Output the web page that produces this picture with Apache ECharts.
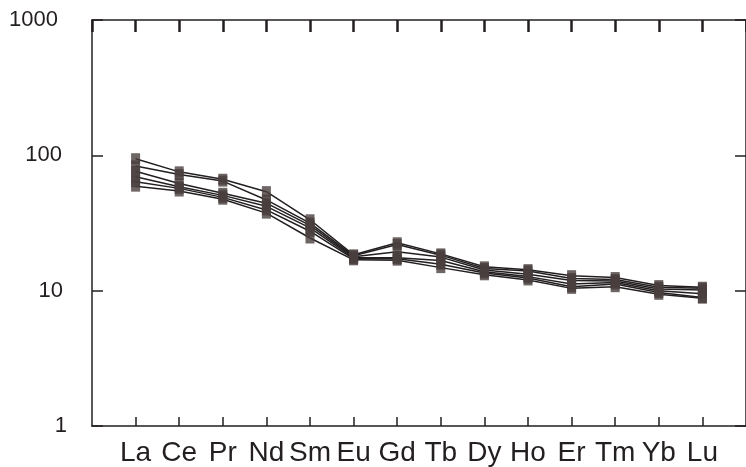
<!DOCTYPE html>
<html>
<head>
<meta charset="utf-8">
<script src="https://cdn.jsdelivr.net/npm/echarts@6/dist/echarts.min.js"></script>
<style>
html,body{margin:0;padding:0;background:#fff;}
#chart{width:746px;height:467px;}
</style>
</head>
<body>
<div id="chart"></div>
<script>
var categories = ['La','Ce','Pr','Nd','Sm','Eu','Gd','Tb','Dy','Ho','Er','Tm','Yb','Lu'];
var yTicks = [1, 10, 100, 1000];
var yTickLabels = ['1', '10', '100', '1000'];
var s1 = [94.4, 75.5, 66.6, 53.9, 33.4, 18.4, 22.6, 18.7, 15.0, 14.3, 12.9, 12.5, 10.9, 10.6];
var s2 = [83.5, 72.1, 64.5, 46.8, 31.6, 18.1, 21.9, 18.3, 14.6, 14.0, 12.3, 12.1, 10.6, 10.4];
var s3 = [76.3, 62.0, 52.4, 44.3, 30.4, 17.8, 19.4, 17.7, 14.2, 13.2, 11.9, 11.8, 10.3, 10.1];
var s4 = [69.4, 58.6, 50.6, 42.0, 29.1, 17.5, 17.5, 16.7, 13.8, 12.7, 11.2, 11.5, 10.0, 9.5];
var s5 = [63.8, 57.0, 48.9, 39.5, 27.5, 17.2, 17.2, 15.7, 13.5, 12.4, 10.7, 11.2, 9.7, 8.9];
var s6 = [59.2, 54.5, 47.4, 37.4, 24.5, 16.9, 16.8, 14.8, 13.1, 12.0, 10.4, 10.7, 9.4, 8.8];
var seriesValues = [s1, s2, s3, s4, s5, s6];

var AX = '#231f20';
var MK = '#4a3e3f';

function toPairs(arr){ return arr.map(function(v,i){ return [i, v]; }); }

var series = [];
seriesValues.forEach(function(arr, k){
  series.push({
    type: 'line', name: 'L' + k, data: toPairs(arr),
    symbol: 'none', z: 2,
    lineStyle: {color: AX, width: 1.5}
  });
});
seriesValues.forEach(function(arr, k){
  series.push({
    type: 'scatter', name: 'M' + k, data: toPairs(arr),
    symbol: 'rect', symbolSize: [9, 11], z: 5,
    itemStyle: {color: MK}
  });
});

var chart = echarts.init(document.getElementById('chart'), null, {renderer: 'canvas'});
chart.setOption({
  animation: false,
  backgroundColor: '#ffffff',
  grid: {left: 92, top: 20, right: -10, bottom: 37},
  xAxis: [{
    type: 'value', position: 'bottom', min: -1, max: 14, interval: 1,
    splitLine: {show: false},
    axisLine: {show: true, onZero: false, lineStyle: {color: AX, width: 1.5}},
    axisTick: {show: true, inside: true, length: 9, lineStyle: {color: AX, width: 1.5}},
    axisLabel: {
      margin: 13, fontSize: 28, color: '#231f20', fontFamily: 'Liberation Sans',
      showMinLabel: false, showMaxLabel: false,
      formatter: function(v){ return (v >= 0 && v < categories.length) ? categories[v] : ''; }
    }
  }, {
    type: 'value', position: 'top', min: -1, max: 14, interval: 1,
    splitLine: {show: false},
    axisLine: {show: true, onZero: false, lineStyle: {color: AX, width: 1.5}},
    axisTick: {show: true, inside: true, length: 12, lineStyle: {color: AX, width: 2.5}},
    axisLabel: {show: false}
  }],
  yAxis: [{
    type: 'log', logBase: 10, min: yTicks[0], max: yTicks[yTicks.length-1], position: 'left',
    splitLine: {show: false},
    axisLine: {show: true, onZero: false, lineStyle: {color: AX, width: 1.5}},
    axisTick: {show: true, inside: true, length: 11, lineStyle: {color: AX, width: 1.5}},
    axisLabel: {
      margin: 25, fontSize: 22, color: '#231f20', fontFamily: 'Liberation Sans',
      formatter: function(v){
        var i = yTicks.indexOf(Math.round(v));
        var k = ['p0','p1','p2','p3'][i];
        return '{' + k + '|' + yTickLabels[i] + '}';
      },
      rich: {
        p0: {fontSize: 22, fontFamily: 'Liberation Sans', color: '#231f20', padding: [0, 0, 0, 0]},
        p1: {fontSize: 22, fontFamily: 'Liberation Sans', color: '#231f20', padding: [0, 4, 0, 0]},
        p2: {fontSize: 22, fontFamily: 'Liberation Sans', color: '#231f20', padding: [0, 5, 0, 0]},
        p3: {fontSize: 22, fontFamily: 'Liberation Sans', color: '#231f20', padding: [0, 9, 0, 0]}
      }
    }
  }, {
    type: 'log', logBase: 10, min: yTicks[0], max: yTicks[yTicks.length-1], position: 'right',
    splitLine: {show: false},
    axisLine: {show: true, onZero: false, lineStyle: {color: AX, width: 1.5}},
    axisTick: {show: true, inside: true, length: 11, lineStyle: {color: AX, width: 1.5}},
    axisLabel: {show: false}
  }],
  series: series
});
</script>
</body>
</html>
